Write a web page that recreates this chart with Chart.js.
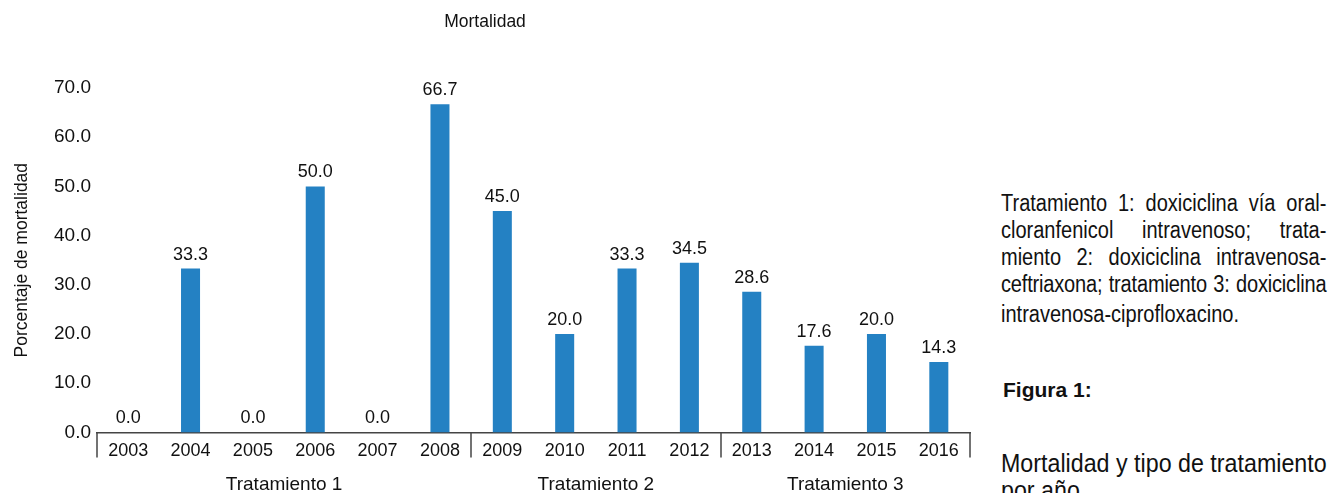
<!DOCTYPE html>
<html>
<head>
<meta charset="utf-8">
<script src="https://cdn.jsdelivr.net/npm/chart.js@4"></script>
<style>
  html, body { margin: 0; padding: 0; background: #fff; }
  body { width: 1328px; height: 493px; position: relative; overflow: hidden; font-family: "Liberation Sans", Arial, sans-serif; color: #111; }
  #wrap { position: absolute; left: 0; top: 0; width: 985px; height: 493px; }
  #note { position: absolute; left: 1001px; top: 190px; width: 374px; font-size: 23px; line-height: 27px; transform: scaleX(0.87); transform-origin: 0 0; }
  #note .j { text-align: justify; text-align-last: justify; white-space: nowrap; }
  #note .t { white-space: nowrap; letter-spacing: -0.2px; text-align: justify; text-align-last: justify; }
  #fig { position: absolute; left: 1003px; top: 378px; font-size: 21px; font-weight: bold; transform: scaleX(1.0); transform-origin: 0 0; }
  #cap { position: absolute; left: 1001px; top: 450px; width: 360px; font-size: 25px; line-height: 27px; transform: scaleX(0.93); transform-origin: 0 0; white-space: nowrap; }
</style>
</head>
<body>
<div id="wrap"><canvas id="c"></canvas></div>
<div id="note">
  <div class="j">Tratamiento 1: doxiciclina vía oral-</div>
  <div class="j">cloranfenicol intravenoso; trata-</div>
  <div class="j">miento 2: doxiciclina intravenosa-</div>
  <div class="t">ceftriaxona; tratamiento 3: doxiciclina</div>
  <div style="margin-top:3px">intravenosa-ciprofloxacino.</div>
</div>
<div id="fig">Figura 1:</div>
<div id="cap">Mortalidad y tipo de tratamiento<br>por año.</div>
<script>
const years = ['2003','2004','2005','2006','2007','2008','2009','2010','2011','2012','2013','2014','2015','2016'];
const mortalidad = [0.0, 33.3, 0.0, 50.0, 0.0, 66.7, 45.0, 20.0, 33.3, 34.5, 28.6, 17.6, 20.0, 14.3];
const groupLabels = ['Tratamiento 1', 'Tratamiento 2', 'Tratamiento 3'];
const groupSizes = [6, 4, 4];
const yTicks = [0, 10, 20, 30, 40, 50, 60, 70];

const FONT = '"Liberation Sans", Arial, sans-serif';

const extras = {
  id: 'extras',
  afterDatasetsDraw(chart) {
    const ctx = chart.ctx;
    const meta = chart.getDatasetMeta(0);
    ctx.save();
    ctx.fillStyle = '#111';
    ctx.font = '18px ' + FONT;
    ctx.textAlign = 'center';
    ctx.textBaseline = 'alphabetic';
    meta.data.forEach((bar, i) => {
      ctx.fillText(mortalidad[i].toFixed(1), bar.x, bar.y - 9);
    });
    ctx.restore();
  },
  afterDraw(chart) {
    const ctx = chart.ctx;
    const area = chart.chartArea;
    const step = (area.right - area.left) / years.length;
    ctx.save();
    ctx.strokeStyle = '#444';
    ctx.lineWidth = 1.5;
    let idx = 0;
    const bounds = [0];
    groupSizes.forEach(s => { idx += s; bounds.push(idx); });
    bounds.forEach(b => {
      const x = Math.round(area.left + b * step);
      ctx.beginPath();
      ctx.moveTo(x, area.bottom);
      ctx.lineTo(x, area.bottom + 25);
      ctx.stroke();
    });
    ctx.fillStyle = '#111';
    ctx.font = '19px ' + FONT;
    ctx.textAlign = 'center';
    ctx.textBaseline = 'middle';
    let start = 0;
    groupSizes.forEach((s, g) => {
      const x0 = area.left + start * step;
      const x1 = area.left + (start + s) * step;
      ctx.fillText(groupLabels[g], (x0 + x1) / 2, area.bottom + 52);
      start += s;
    });
    ctx.restore();
  }
};

new Chart(document.getElementById('c'), {
  type: 'bar',
  data: {
    labels: years,
    datasets: [{
      data: mortalidad,
      backgroundColor: '#2481c3',
      borderWidth: 0,
      categoryPercentage: 1.0,
      barPercentage: 0.305
    }]
  },
  options: {
    responsive: true,
    maintainAspectRatio: false,
    animation: false,
    layout: { padding: { left: 0, right: 15, top: 0, bottom: 23 } },
    plugins: {
      legend: { display: false },
      tooltip: { enabled: false },
      title: {
        display: true,
        text: 'Mortalidad',
        color: '#111',
        font: { family: FONT, size: 17.5, weight: 'normal' },
        padding: { top: 12, bottom: 55 }
      }
    },
    scales: {
      x: {
        grid: { display: false, drawTicks: false },
        border: { display: true, color: '#444', width: 1.5 },
        ticks: { color: '#111', font: { family: FONT, size: 18 }, padding: 8, maxRotation: 0, autoSkip: false }
      },
      y: {
        min: 0,
        max: 70,
        afterBuildTicks: (s) => { s.ticks = yTicks.map(v => ({ value: v })); },
        afterFit: (s) => { s.width = 97; },
        grid: { display: false, drawTicks: false },
        border: { display: false },
        ticks: { color: '#111', font: { family: FONT, size: 19 }, padding: 6, callback: (v) => Number(v).toFixed(1) },
        title: {
          display: true,
          text: 'Porcentaje de mortalidad',
          color: '#111',
          font: { family: FONT, size: 17.5 },
          padding: { top: 12, bottom: 0 }
        }
      }
    }
  },
  plugins: [extras]
});
</script>
</body>
</html>
